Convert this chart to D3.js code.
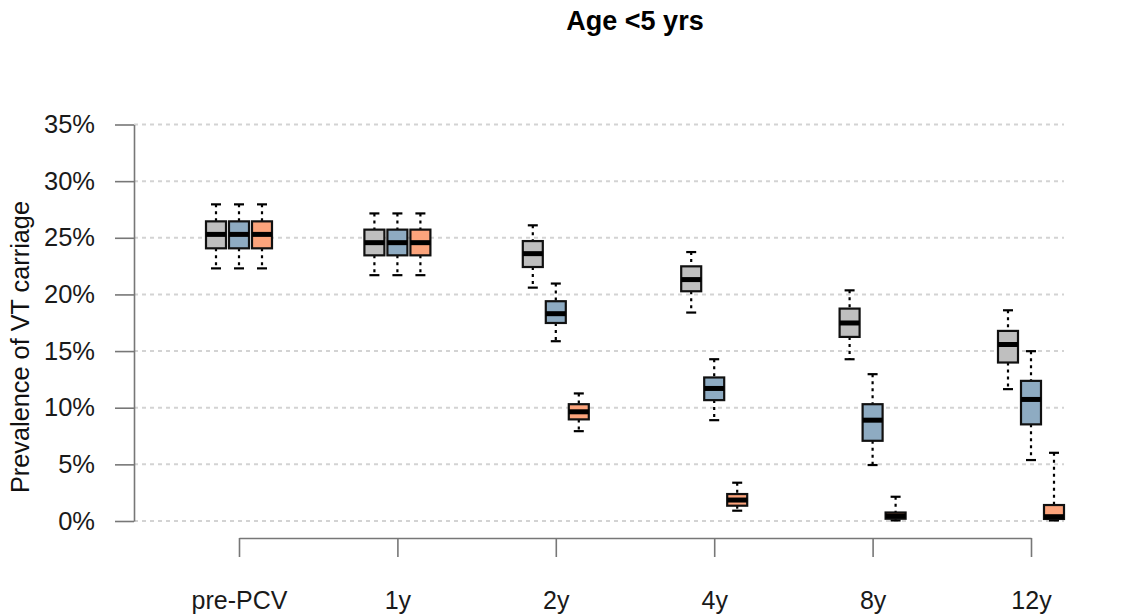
<!DOCTYPE html>
<html>
<head>
<meta charset="utf-8">
<script src="https://cdn.jsdelivr.net/npm/d3@7"></script>
<style>
  html, body { margin: 0; padding: 0; background: #fff; }
  svg { display: block; font-family: "Liberation Sans", Arial, Helvetica, sans-serif; }
</style>
</head>
<body>
<svg id="chart" width="1138" height="614"></svg>
<script>
// Time points after vaccine introduction
const timepoints = ["pre-PCV", "1y", "2y", "4y", "8y", "12y"];
const yTicks = [0, 5, 10, 15, 20, 25, 30, 35];

// Box statistics per time point: [lower whisker, Q1, median, Q3, upper whisker] (% prevalence)
const seriesNames = ["gray", "blue", "orange"];
const grayStats = [
  [22.3, 24.07, 25.3, 26.45, 27.95],
  [21.7, 23.45, 24.57, 25.72, 27.15],
  [20.6, 22.42, 23.6, 24.71, 26.1],
  [18.4, 20.28, 21.31, 22.48, 23.74],
  [14.28, 16.25, 17.48, 18.75, 20.36],
  [11.64, 13.99, 15.58, 16.78, 18.6]
];
const blueStats = [
  [22.3, 24.07, 25.3, 26.45, 27.95],
  [21.7, 23.45, 24.57, 25.72, 27.15],
  [15.87, 17.48, 18.3, 19.4, 20.96],
  [8.9, 10.67, 11.7, 12.67, 14.28],
  [4.94, 7.08, 8.9, 10.31, 12.96],
  [5.38, 8.53, 10.73, 12.37, 14.99]
];
const orangeStats = [
  [22.3, 24.07, 25.3, 26.45, 27.95],
  [21.7, 23.45, 24.57, 25.72, 27.15],
  [7.93, 8.97, 9.64, 10.31, 11.26],
  [0.91, 1.35, 1.85, 2.38, 3.38],
  [0.05, 0.2, 0.45, 0.75, 2.14],
  [0.05, 0.18, 0.38, 1.41, 6.02]
];
const seriesColors = ["#bfbfbf", "#8eabc2", "#fca47c"];

const svg = d3.select("#chart");

const y = d3.scaleLinear().domain([0, 35]).range([521, 124.5]);
const x = d3.scalePoint().domain(timepoints).range([239, 1031]);
const offset = d3.scalePoint().domain(seriesNames).range([-23, 23]);
const boxW = 20, capW = 10;
const plotLeft = 134, plotRight = 1064;

// Title
svg.append("text")
  .attr("x", 635).attr("y", 30)
  .attr("text-anchor", "middle")
  .attr("font-size", 27).attr("font-weight", "bold")
  .text("Age <5 yrs");

// Horizontal dotted gridlines
svg.append("g").selectAll("line")
  .data(yTicks)
  .join("line")
  .attr("x1", plotLeft).attr("x2", plotRight)
  .attr("y1", d => y(d)).attr("y2", d => y(d))
  .attr("stroke", "#d3d3d3").attr("stroke-width", 2)
  .attr("stroke-dasharray", "4,4");

// Y axis
const yAxis = svg.append("g")
  .attr("transform", `translate(${plotLeft},0)`)
  .call(d3.axisLeft(y).tickValues(yTicks).tickFormat(d => d + "%").tickSize(19).tickPadding(20).tickSizeOuter(0));
yAxis.select(".domain").attr("stroke", "#777").attr("stroke-width", 1.6);
yAxis.selectAll(".tick line").attr("stroke", "#777").attr("stroke-width", 1.6);
yAxis.selectAll(".tick text").attr("font-size", 25.5).attr("fill", "#1a1a1a").attr("font-family", "Liberation Sans, Arial, sans-serif");

// X axis
const xAxis = svg.append("g")
  .attr("transform", "translate(0,538)")
  .call(d3.axisBottom(x).tickSize(19).tickPadding(34).tickSizeOuter(0));
xAxis.select(".domain").attr("stroke", "#777").attr("stroke-width", 1.6);
xAxis.selectAll(".tick line").attr("stroke", "#777").attr("stroke-width", 1.6);
xAxis.selectAll(".tick text").attr("font-size", 25).attr("fill", "#1a1a1a").attr("font-family", "Liberation Sans, Arial, sans-serif");

// Y axis title
svg.append("text")
  .attr("transform", "translate(29,347) rotate(-90)")
  .attr("text-anchor", "middle")
  .attr("font-size", 25.3).attr("fill", "#111")
  .text("Prevalence of VT carriage");

// Boxplots
const allStats = [grayStats, blueStats, orangeStats];
const boxes = [];
allStats.forEach((stats, si) => {
  stats.forEach((s, gi) => {
    boxes.push({ cx: x(timepoints[gi]) + offset(seriesNames[si]), s, color: seriesColors[si] });
  });
});

const bg = svg.append("g").selectAll("g").data(boxes).join("g");

// whiskers (dashed)
bg.append("line")
  .attr("x1", d => d.cx).attr("x2", d => d.cx)
  .attr("y1", d => y(d.s[4])).attr("y2", d => y(d.s[3]))
  .attr("stroke", "#000").attr("stroke-width", 2.2).attr("stroke-dasharray", "3,4");
bg.append("line")
  .attr("x1", d => d.cx).attr("x2", d => d.cx)
  .attr("y1", d => y(d.s[1])).attr("y2", d => y(d.s[0]))
  .attr("stroke", "#000").attr("stroke-width", 2.2).attr("stroke-dasharray", "3,4");
// staples
bg.append("line")
  .attr("x1", d => d.cx - capW / 2).attr("x2", d => d.cx + capW / 2)
  .attr("y1", d => y(d.s[4])).attr("y2", d => y(d.s[4]))
  .attr("stroke", "#000").attr("stroke-width", 2.2);
bg.append("line")
  .attr("x1", d => d.cx - capW / 2).attr("x2", d => d.cx + capW / 2)
  .attr("y1", d => y(d.s[0])).attr("y2", d => y(d.s[0]))
  .attr("stroke", "#000").attr("stroke-width", 2.2);
// box
bg.append("rect")
  .attr("x", d => d.cx - boxW / 2).attr("width", boxW)
  .attr("y", d => y(d.s[3])).attr("height", d => y(d.s[1]) - y(d.s[3]))
  .attr("fill", d => d.color).attr("stroke", "#111").attr("stroke-width", 2.2);
// median
bg.append("line")
  .attr("x1", d => d.cx - boxW / 2).attr("x2", d => d.cx + boxW / 2)
  .attr("y1", d => y(d.s[2])).attr("y2", d => y(d.s[2]))
  .attr("stroke", "#000").attr("stroke-width", 5);
</script>
</body>
</html>
